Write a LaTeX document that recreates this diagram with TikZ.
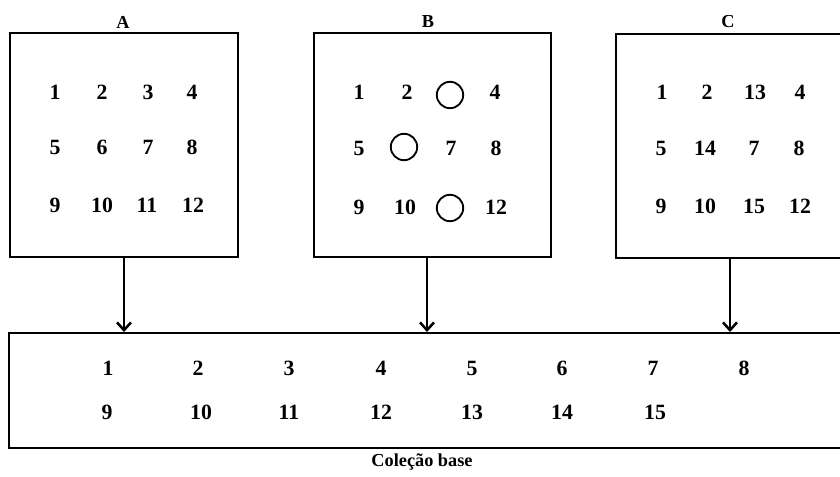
\documentclass[tikz,border=0pt]{standalone}
\usepackage{fontspec}
\setmainfont{Liberation Serif}
\usetikzlibrary{arrows.meta}
\begin{document}
\begin{tikzpicture}[x=0.025cm,y=-0.025cm,
    panel/.style={draw,line width=1.4pt,inner sep=0pt,minimum height=5.6cm},
    num/.style={font=\fontsize{15.5}{18}\selectfont\bfseries},
    title/.style={font=\fontsize{13}{15}\selectfont\bfseries},
    hole/.style={draw,circle,line width=1.3pt,minimum size=0.66cm,inner sep=0pt},
    feed/.style={line width=0.8pt,-{Straight Barb[length=5.5pt,width=10pt,line width=1.8pt]}}]
	\useasboundingbox (0,0) rectangle (840,477);
	% Draw the three collections and the base collection
	\node[panel,minimum width=5.7cm] (boxA) at (124,145) {};
	\node[panel,minimum width=5.925cm] (boxB) at (432.5,145) {};
	\node[panel,minimum width=5.7cm] (boxC) at (730,146) {};
	\node[panel,minimum width=21.025cm,minimum height=2.875cm] (base) at (429.5,390.5) {};
	% Titles
	\node[title] (tA) at (123,22) {A};
	\node[title] (tB) at (428,22) {B};
	\node[title] (tC) at (728,22) {C};
	\node[font=\fontsize{13}{15}\selectfont\bfseries] (tbase) at (422,462) {Coleção base};
	% Numbers of collection A
	\foreach \t/\x/\y in {1/55/92, 2/102/92, 3/148/92, 4/192/92,
	                      5/55/147, 6/102/147, 7/148/147, 8/192/147,
	                      9/55/205, 10/102/205, 11/147/205, 12/193/205}
	  \node[num] (a\t) at (\x,\y) {\t};
	% Numbers of collection B, with the missing ones as circles
	\foreach \t/\x/\y in {1/359/92, 2/407/92, 4/495/92,
	                      5/359/148, 7/451/148, 8/496/148,
	                      9/359/207, 10/405/207, 12/496/207}
	  \node[num] (b\t) at (\x,\y) {\t};
	\node[hole] (b3) at (450,95) {};
	\node[hole] (b6) at (404,147) {};
	\node[hole] (b11) at (450,208) {};
	% Numbers of collection C
	\foreach \t/\n/\x/\y in {1/1/662/92, 2/2/707/92, 3/13/755/92, 4/4/800/92,
	                         5/5/661/148, 6/14/705/148, 7/7/754/148, 8/8/799/148,
	                         9/9/661/206, 10/10/705/206, 11/15/754/206, 12/12/800/206}
	  \node[num] (c\t) at (\x,\y) {\n};
	% Numbers of the base collection
	\foreach \t/\x in {1/108, 2/198, 3/289, 4/381, 5/472, 6/562, 7/653, 8/744}
	  \node[num] (e\t) at (\x,368) {\t};
	\foreach \t/\x in {9/107, 10/201, 11/289, 12/381, 13/472, 14/562, 15/655}
	  \node[num] (e\t) at (\x,412) {\t};
	% Arrows down to the base collection
	\draw[feed] (boxA.south) -- (boxA.south |- base.north);
	\draw[feed] ([xshift=-0.1375cm]boxB.south) -- ([xshift=-0.1375cm]boxB.south |- base.north);
	\draw[feed] (boxC.south) -- (boxC.south |- base.north);
\end{tikzpicture}
\end{document}
